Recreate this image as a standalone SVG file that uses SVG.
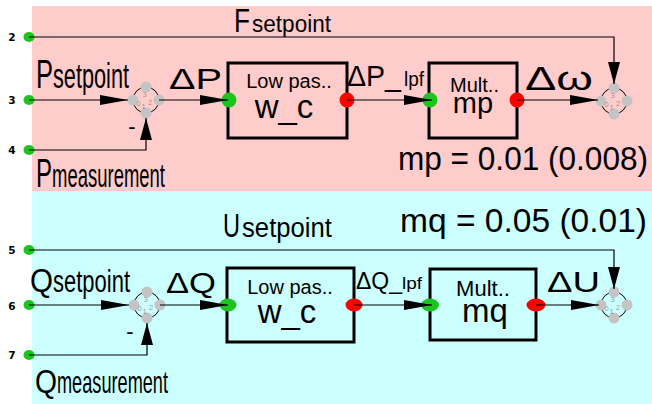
<svg xmlns="http://www.w3.org/2000/svg" width="652" height="404" viewBox="0 0 652 404">
<style>
text{font-family:"Liberation Sans",Arial,sans-serif;fill:#000}
.port{font-family:"DejaVu Sans",sans-serif;font-weight:bold;font-size:10.5px;text-anchor:middle}
.num{font-size:7.5px;fill:#8a8a8a;fill-opacity:0.85;text-anchor:middle}
.blk{fill:none;stroke:#000;stroke-width:3}
.ring{fill:none;stroke:#000;stroke-width:1}
.gd{fill:#c4c4c4}
.gp{fill:#1ec41e}
.rp{fill:#ff0000}
.mid{text-anchor:middle}
.con{fill:none;stroke:#000;stroke-width:1.2}
</style>
<defs>
<marker id="ah" markerUnits="userSpaceOnUse" markerWidth="28" markerHeight="10" refX="28" refY="5" orient="auto"><path d="M0,0 L28,5 L0,10 z" fill="#000"/></marker>
<marker id="av" markerUnits="userSpaceOnUse" markerWidth="22" markerHeight="12" refX="22" refY="6" orient="auto"><path d="M0,0 L22,6 L0,12 z" fill="#000"/></marker>
</defs>
<rect x="0" y="0" width="652" height="404" fill="#fff"/>
<rect x="32" y="6" width="620" height="185" fill="#ffcccc"/>
<rect x="32" y="191" width="620" height="213" fill="#ccffff"/>

<g id="port2"><ellipse cx="29" cy="37" rx="5.5" ry="5" class="gp"/><text x="12" y="41" class="port">2</text></g>
<g id="port3"><ellipse cx="29" cy="100" rx="5.5" ry="5" class="gp"/><text x="12" y="104" class="port">3</text></g>
<g id="port4"><ellipse cx="29" cy="150" rx="5.5" ry="5" class="gp"/><text x="12" y="154" class="port">4</text></g>
<g id="port5"><ellipse cx="29" cy="250" rx="5.5" ry="5" class="gp"/><text x="12" y="254" class="port">5</text></g>
<g id="port6"><ellipse cx="29" cy="305" rx="5.5" ry="5" class="gp"/><text x="12" y="310" class="port">6</text></g>
<g id="port7"><ellipse cx="29" cy="355" rx="5.5" ry="5" class="gp"/><text x="12" y="359" class="port">7</text></g>

<g id="sumP">
<circle cx="146" cy="100" r="13" class="ring"/>
<circle cx="133" cy="100" r="5.5" class="gd"/><circle cx="159" cy="100" r="5.5" class="gd"/>
<circle cx="146" cy="87" r="5.5" class="gd"/><circle cx="146" cy="113" r="5.5" class="gd"/>
<text x="144.5" y="97" class="num">3</text><text x="138.5" y="106" class="num">0</text><text x="143.5" y="109" class="num">1</text><text x="150" y="105" class="num">2</text>
</g>
<g id="sumF">
<circle cx="614" cy="101" r="13" class="ring"/>
<circle cx="601" cy="101" r="5.5" class="gd"/><circle cx="627" cy="101" r="5.5" class="gd"/>
<circle cx="614" cy="88" r="5.5" class="gd"/><circle cx="614" cy="114" r="5.5" class="gd"/>
<text x="612.5" y="98" class="num">3</text><text x="606.5" y="107" class="num">0</text><text x="611.5" y="110" class="num">1</text><text x="618" y="106" class="num">2</text>
</g>
<g id="sumQ">
<circle cx="147" cy="305" r="13" class="ring"/>
<circle cx="134" cy="305" r="5.5" class="gd"/><circle cx="160" cy="305" r="5.5" class="gd"/>
<circle cx="147" cy="292" r="5.5" class="gd"/><circle cx="147" cy="318" r="5.5" class="gd"/>
<text x="145.5" y="302" class="num">3</text><text x="139.5" y="311" class="num">0</text><text x="144.5" y="314" class="num">1</text><text x="151" y="310" class="num">2</text>
</g>
<g id="sumU">
<circle cx="614" cy="305" r="13" class="ring"/>
<circle cx="601" cy="305" r="5.5" class="gd"/><circle cx="627" cy="305" r="5.5" class="gd"/>
<circle cx="614" cy="292" r="5.5" class="gd"/><circle cx="614" cy="318" r="5.5" class="gd"/>
<text x="612.5" y="302" class="num">3</text><text x="606.5" y="311" class="num">0</text><text x="611.5" y="314" class="num">1</text><text x="618" y="310" class="num">2</text>
</g>

<g id="lowpassP">
<rect x="228" y="63" width="119" height="75" class="blk"/>
<text x="289" y="88" font-size="20" class="mid">Low pas..</text>
<text x="284" y="118" font-size="33" class="mid">w_c</text>
<ellipse cx="229" cy="100" rx="7.5" ry="7.5" class="gp"/>
<ellipse cx="347" cy="100" rx="7.5" ry="7.5" class="rp"/>
</g>
<g id="multP">
<rect x="429" y="63" width="88" height="75" class="blk"/>
<text x="474.5" y="92" font-size="20" class="mid">Mult..</text>
<text x="473" y="113" font-size="29" class="mid">mp</text>
<ellipse cx="430" cy="100" rx="7.5" ry="7.5" class="gp"/>
<ellipse cx="517" cy="100" rx="7.5" ry="7.5" class="rp"/>
</g>
<g id="lowpassQ">
<rect x="227" y="268" width="127" height="74" class="blk"/>
<text x="290" y="294" font-size="20" class="mid">Low pas..</text>
<text x="287" y="323" font-size="33" class="mid">w_c</text>
<ellipse cx="228" cy="305" rx="8.5" ry="6.5" class="gp"/>
<ellipse cx="354" cy="305" rx="8.5" ry="6.5" class="rp"/>
</g>
<g id="multQ">
<rect x="430" y="269" width="106" height="71" class="blk"/>
<text x="483" y="296" font-size="22" class="mid">Mult..</text>
<text x="485" y="322" font-size="33" class="mid">mq</text>
<ellipse cx="430" cy="305" rx="9" ry="6.5" class="gp"/>
<ellipse cx="536" cy="305" rx="9.5" ry="6.5" class="rp"/>
</g>

<g id="connectors">
<path d="M29,37 H614 V84" class="con" marker-end="url(#av)"/>
<path d="M29,100 H128" class="con" marker-end="url(#ah)"/>
<path d="M29,150 H146 V118" class="con" marker-end="url(#av)"/>
<path d="M159,100 H228" class="con" marker-end="url(#ah)"/>
<path d="M347,100 H432" class="con" marker-end="url(#ah)"/>
<path d="M517,100 H598" class="con" marker-end="url(#ah)"/>
<path d="M29,250 H614 V289" class="con" marker-end="url(#av)"/>
<path d="M29,305 H129" class="con" marker-end="url(#ah)"/>
<path d="M29,355 H147 V323" class="con" marker-end="url(#av)"/>
<path d="M160,305 H228" class="con" marker-end="url(#ah)"/>
<path d="M354,305 H432" class="con" marker-end="url(#ah)"/>
<path d="M536,305 H599" class="con" marker-end="url(#ah)"/>
</g>

<g id="labels">
<text x="234" y="32" font-size="33" textLength="16" lengthAdjust="spacingAndGlyphs">F</text>
<text x="252" y="32" font-size="23" textLength="79" lengthAdjust="spacingAndGlyphs">setpoint</text>
<text x="36" y="88" font-size="40" textLength="17" lengthAdjust="spacingAndGlyphs">P</text>
<text x="53" y="88" font-size="35" textLength="76" lengthAdjust="spacingAndGlyphs">setpoint</text>
<text x="36" y="187" font-size="40" textLength="16" lengthAdjust="spacingAndGlyphs">P</text>
<text x="52" y="187" font-size="33" textLength="113" lengthAdjust="spacingAndGlyphs">measurement</text>
<text x="132" y="134" font-size="22" class="mid">-</text>
<text x="169" y="89" font-size="29" textLength="53" lengthAdjust="spacingAndGlyphs">ΔP</text>
<text x="347" y="86" font-size="29" textLength="54" lengthAdjust="spacingAndGlyphs">ΔP_</text>
<text x="404" y="86" font-size="20" textLength="20" lengthAdjust="spacingAndGlyphs">lpf</text>
<text x="525" y="90" font-size="33" textLength="68" lengthAdjust="spacingAndGlyphs">Δω</text>
<text x="398" y="170" font-size="34" textLength="250" lengthAdjust="spacingAndGlyphs">mp = 0.01 (0.008)</text>
<text x="400" y="232" font-size="34" textLength="247" lengthAdjust="spacingAndGlyphs">mq = 0.05 (0.01)</text>
<text x="223" y="237" font-size="34" textLength="17" lengthAdjust="spacingAndGlyphs">U</text>
<text x="242" y="237" font-size="27" textLength="90" lengthAdjust="spacingAndGlyphs">setpoint</text>
<text x="30" y="292" font-size="33" textLength="23" lengthAdjust="spacingAndGlyphs">Q</text>
<text x="53" y="292" font-size="31" textLength="77" lengthAdjust="spacingAndGlyphs">setpoint</text>
<text x="35" y="393" font-size="33" textLength="22" lengthAdjust="spacingAndGlyphs">Q</text>
<text x="57" y="393" font-size="32" textLength="111" lengthAdjust="spacingAndGlyphs">measurement</text>
<text x="130" y="339" font-size="22" class="mid">-</text>
<text x="166" y="293" font-size="30" textLength="50" lengthAdjust="spacingAndGlyphs">ΔQ</text>
<text x="356" y="289" font-size="23" textLength="46" lengthAdjust="spacingAndGlyphs">ΔQ_</text>
<text x="402" y="289" font-size="16" textLength="20" lengthAdjust="spacingAndGlyphs">lpf</text>
<text x="547" y="292" font-size="30" textLength="53" lengthAdjust="spacingAndGlyphs">ΔU</text>
</g>
</svg>
